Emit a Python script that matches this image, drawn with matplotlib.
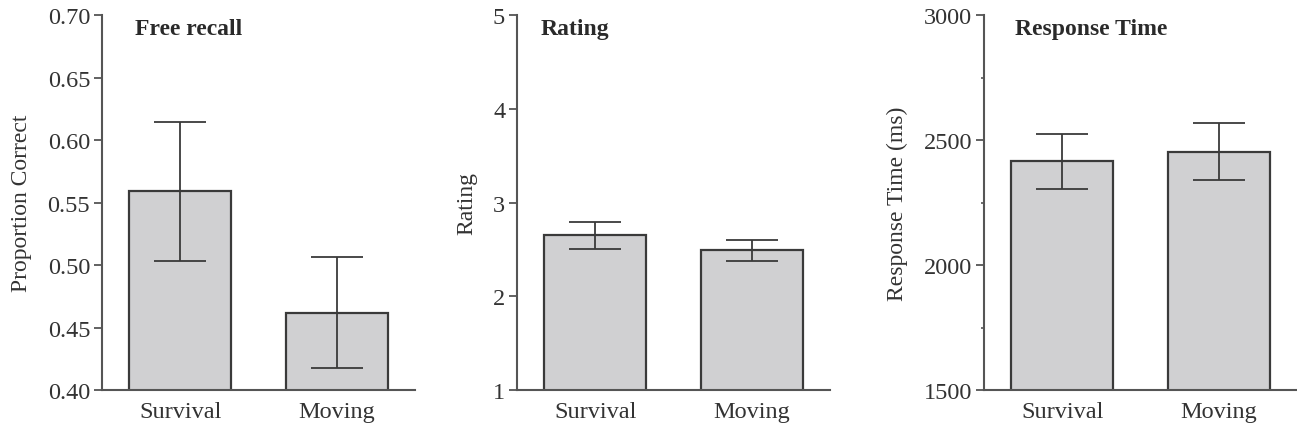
import matplotlib
matplotlib.use("Agg")
import matplotlib.pyplot as plt
from matplotlib.ticker import MultipleLocator

plt.rcParams["font.family"] = ["Liberation Serif", "DejaVu Serif"]

conditions = ["Survival", "Moving"]

recall_mean = [0.559, 0.462]
recall_err = [0.0555, 0.0445]

rating_mean = [2.65, 2.49]
rating_err = [0.147, 0.11]

rt_mean = [2415, 2454]
rt_err = [111, 113]

panels = [
    ("Free recall", "Proportion Correct", recall_mean, recall_err,
     (0.40, 0.70), [0.40, 0.45, 0.50, 0.55, 0.60, 0.65, 0.70], None),
    ("Rating", "Rating", rating_mean, rating_err,
     (1, 5), [1, 2, 3, 4, 5], None),
    ("Response Time", "Response Time (ms)", rt_mean, rt_err,
     (1500, 3000), [1500, 2000, 2500, 3000], 250),
]

lefts = [0.0786, 0.3986, 0.7587]
title_x = [0.105, 0.077, 0.10]

fig = plt.figure(figsize=(12.97, 4.31), dpi=100)

spine_col = "#555555"
text_col = "#333333"

for i, (title, ylabel, means, errs, ylim, yticks, minor) in enumerate(panels):
    ax = fig.add_axes([lefts[i], 0.0928, 0.2413, 0.870])
    x = range(len(conditions))
    ax.bar(x, means, width=0.65, color="#d0d0d2", edgecolor="#3a3a3a",
           linewidth=1.6, zorder=2)
    ax.errorbar(x, means, yerr=errs, fmt="none", ecolor="#3a3a3a",
                elinewidth=1.3, capsize=18.5, capthick=1.3, zorder=3)
    ax.set_xlim(-0.5, 1.5)
    ax.set_ylim(*ylim)
    ax.set_yticks(yticks)
    if minor:
        ax.yaxis.set_minor_locator(MultipleLocator(minor))
        ax.tick_params(axis="y", which="minor", length=2.5, width=1.2,
                       color=spine_col)
    if i == 0:
        ax.set_yticklabels([f"{v:.2f}" for v in yticks])
    ax.set_xticks(list(x))
    ax.set_xticklabels(conditions)
    ax.spines["top"].set_visible(False)
    ax.spines["right"].set_visible(False)
    for s in ("left", "bottom"):
        ax.spines[s].set_color(spine_col)
        ax.spines[s].set_linewidth(1.5)
    ax.tick_params(axis="y", which="major", length=5.5, width=1.3,
                   color=spine_col, labelsize=17.5, labelcolor=text_col, pad=3)
    ax.tick_params(axis="x", length=0, labelsize=17.5, labelcolor=text_col,
                   pad=8)
    ax.set_ylabel(ylabel, fontsize=17, color=text_col, labelpad=11)
    ax.text(title_x[i], 0.965, title, transform=ax.transAxes,
            fontsize=17, fontweight="bold", color="#2a2a2a",
            ha="left", va="center")
    ax.patch.set_visible(False)

fig.savefig("out.png", dpi=100)
